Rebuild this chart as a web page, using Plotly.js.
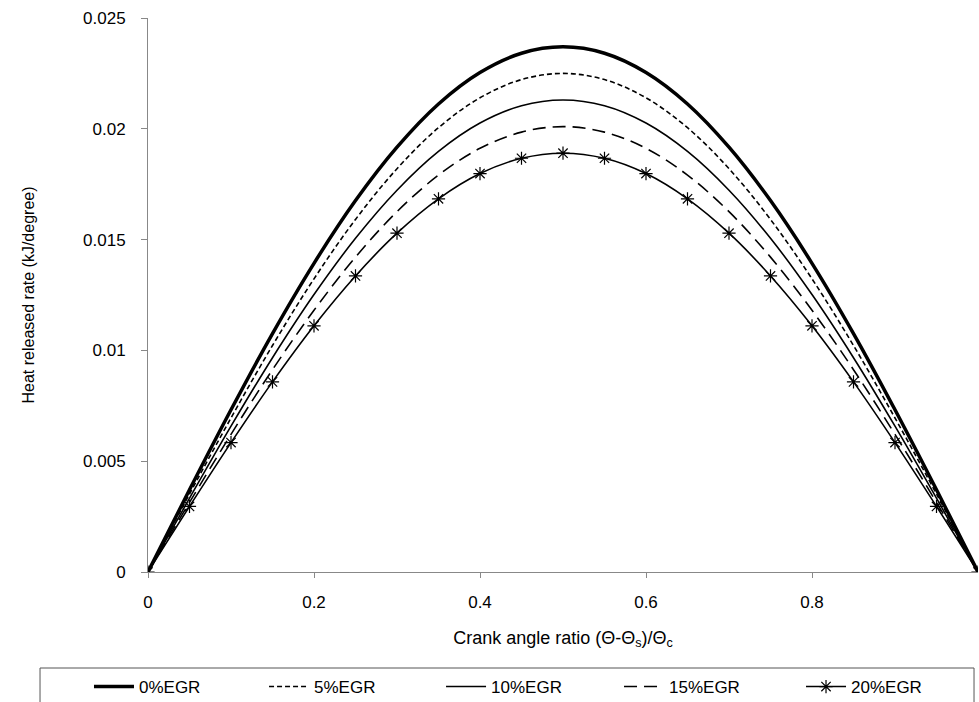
<!DOCTYPE html>
<html>
<head>
<meta charset="utf-8">
<script src="https://cdn.plot.ly/plotly-3.0.1.min.js"></script>
<style>html,body{margin:0;padding:0;background:#fff;}#chart{width:979px;height:702px;}</style>
</head>
<body>
<div id="chart"></div>
<script>
const crankRatio = [0,0.05,0.1,0.15,0.2,0.25,0.3,0.35,0.4,0.45,0.5,0.55,0.6,0.65,0.7,0.75,0.8,0.85,0.9,0.95,1];
const egr0  = [0,0.00371,0.00732,0.01076,0.01393,0.01676,0.01917,0.02112,0.02254,0.02341,0.0237,0.02341,0.02254,0.02112,0.01917,0.01676,0.01393,0.01076,0.00732,0.00371,0];
const egr5  = [0,0.00352,0.00695,0.01022,0.01323,0.01591,0.01820,0.02005,0.02140,0.02222,0.0225,0.02222,0.02140,0.02005,0.01820,0.01591,0.01323,0.01022,0.00695,0.00352,0];
const egr10 = [0,0.00333,0.00658,0.00967,0.01252,0.01506,0.01723,0.01898,0.02026,0.02104,0.0213,0.02104,0.02026,0.01898,0.01723,0.01506,0.01252,0.00967,0.00658,0.00333,0];
const egr15 = [0,0.00314,0.00621,0.00913,0.01181,0.01421,0.01626,0.01791,0.01912,0.01985,0.0201,0.01985,0.01912,0.01791,0.01626,0.01421,0.01181,0.00913,0.00621,0.00314,0];
const egr20 = [0,0.00296,0.00584,0.00858,0.01111,0.01336,0.01529,0.01684,0.01798,0.01867,0.0189,0.01867,0.01798,0.01684,0.01529,0.01336,0.01111,0.00858,0.00584,0.00296,0];
const seriesNames = ['0%EGR','5%EGR','10%EGR','15%EGR','20%EGR'];
const xTicks = [0,0.2,0.4,0.6,0.8];
const xTickText = ['0','0.2','0.4','0.6','0.8'];
const yTicks = [0,0.005,0.01,0.015,0.02,0.025];
const yTickText = ['0','0.005','0.01','0.015','0.02','0.025'];

const font = 'Arial, "Liberation Sans", sans-serif';
const legendKeys = ['legend','legend2','legend3','legend4','legend5'];
const legendX = [0.0909, 0.2697, 0.4505, 0.6323, 0.8182];

const traces = [
  {x: crankRatio, y: egr0,  name: seriesNames[0], legend: legendKeys[0], mode: 'lines', line: {color:'#000', width:3.5, shape:'spline'}},
  {x: crankRatio, y: egr5,  name: seriesNames[1], legend: legendKeys[1], mode: 'lines', line: {color:'#000', width:1.6, dash:'5px,3px', shape:'spline'}},
  {x: crankRatio, y: egr10, name: seriesNames[2], legend: legendKeys[2], mode: 'lines', line: {color:'#000', width:1.6, shape:'spline'}},
  {x: crankRatio, y: egr15, name: seriesNames[3], legend: legendKeys[3], mode: 'lines', line: {color:'#000', width:1.6, dash:'13px,7px', shape:'spline'}},
  {x: crankRatio, y: egr20, name: seriesNames[4], legend: legendKeys[4], mode: 'lines+markers', line: {color:'#000', width:1.6, shape:'spline'},
   marker: {symbol:'asterisk-open', size:11, color:'#000', line:{color:'#000', width:1.2}}}
];
const layout = {
  width: 979, height: 702,
  paper_bgcolor: '#fff', plot_bgcolor: '#fff',
  margin: {l:148, r:1, t:18, b:130},
  font: {family: font, size: 17, color: '#000'},
  showlegend: true,
  xaxis: {
    range: [0,1], tickvals: xTicks, ticktext: xTickText,
    showgrid: false, zeroline: false, showline: true, linecolor: '#888', linewidth: 1,
    ticks: 'outside', ticklen: 5, tickcolor: '#888', ticklabelstandoff: 10,
    tickfont: {family: font, size: 17, color:'#000'},
    title: {text: 'Crank angle ratio (Θ-Θ<sub>s</sub>)/Θ<sub>c</sub>', font: {family: font, size: 18, color:'#000'}, standoff: 19},
    automargin: false
  },
  yaxis: {
    range: [0,0.025], tickvals: yTicks, ticktext: yTickText,
    showgrid: false, zeroline: false, showline: true, linecolor: '#888', linewidth: 1,
    ticks: 'outside', ticklen: 6, tickcolor: '#888', ticklabelstandoff: 12,
    tickfont: {family: font, size: 17, color:'#000'},
    title: {text: 'Heat released rate (kJ/degree)', font: {family: font, size: 16, color:'#000'}, standoff: 44},
    automargin: false
  },
  shapes: [{
    type: 'rect', xref: 'paper', yref: 'paper',
    x0: -0.1301, x1: 0.9952, y0: -0.1733, y1: -0.26,
    line: {color: '#555', width: 1}, fillcolor: 'rgba(0,0,0,0)', layer: 'below'
  }]
};
legendKeys.forEach((k, i) => {
  layout[k] = {
    orientation: 'h', xref: 'container', yref: 'container',
    x: legendX[i], xanchor: 'left', y: 0.047, yanchor: 'top',
    borderwidth: 0, bgcolor: 'rgba(0,0,0,0)',
    font: {family: font, size: 17, color:'#000'},
    itemwidth: 40
  };
});
Plotly.newPlot('chart', traces, layout, {displayModeBar: false, staticPlot: true});
</script>
</body>
</html>
